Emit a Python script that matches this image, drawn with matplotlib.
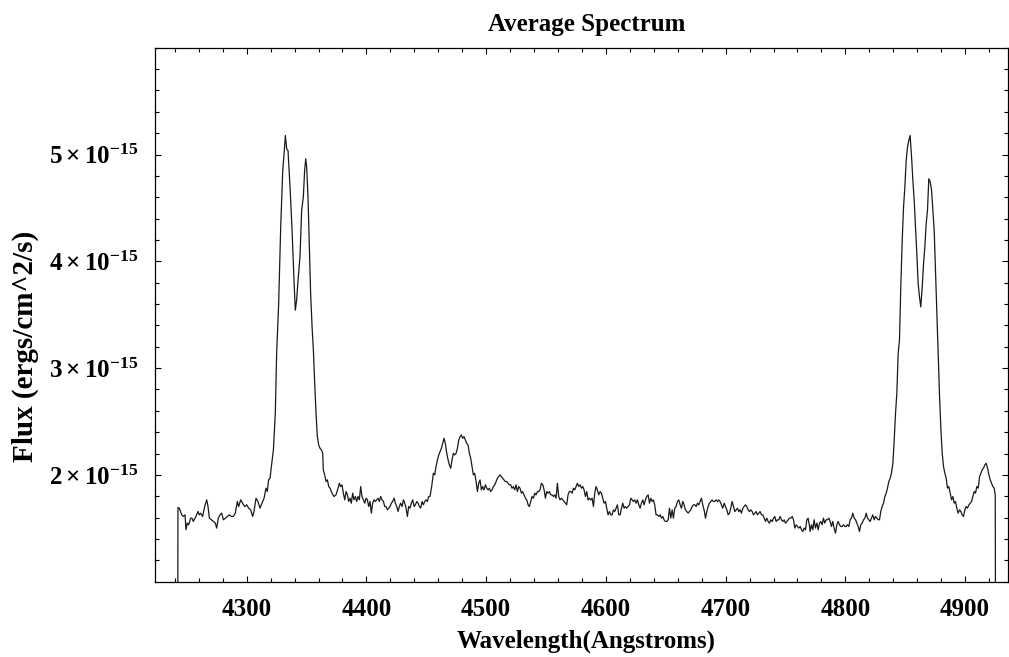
import numpy as np
import matplotlib
matplotlib.use('Agg')
import matplotlib.pyplot as plt
from matplotlib.ticker import MultipleLocator, FixedLocator, FuncFormatter

# average spectrum; flux in units of 1e-15 ergs/cm^2/s
wavelength = [
    4242.3, 4242.6, 4243.7, 4245.7, 4247.1, 4248.5, 4249.3, 4250.4, 4251.5, 4253.2,
    4254.3, 4255.4, 4257.6, 4259.3, 4260.4, 4261.5, 4263.2, 4264.9, 4266.6, 4267.7,
    4268.8, 4270.5, 4272.1, 4273.8, 4274.9, 4276.3, 4277.7, 4279.1, 4280.5, 4282.1,
    4283.8, 4285.5, 4287.2, 4288.8, 4290.5, 4292.2, 4293.3, 4295.0, 4296.6, 4298.3,
    4300.0, 4301.6, 4303.3, 4305.0, 4306.1, 4307.8, 4309.4, 4311.1, 4312.8, 4314.5,
    4316.1, 4317.2, 4318.3, 4319.5, 4320.6, 4322.3, 4323.9, 4325.0, 4326.7, 4328.4,
    4330.1, 4331.2, 4332.3, 4333.4, 4334.5, 4336.2, 4337.9, 4339.5, 4340.6, 4341.7,
    4342.9,
    # H-gamma red side and continuum
    4344.5, 4345.9, 4347.3, 4348.4, 4349.3, 4350.1, 4351.2, 4352.3, 4353.4, 4354.6,
    4355.7, 4356.8, 4357.9, 4359.0, 4360.1, 4361.2, 4362.4, 4363.5, 4364.0, 4365.1,
    4366.3, 4367.4, 4368.5, 4369.6, 4371.3, 4372.9, 4374.6, 4376.3, 4377.4, 4378.5,
    4379.6, 4380.7, 4381.9, 4383.0, 4384.1, 4385.2, 4386.3, 4387.4, 4388.5, 4389.6,
    4390.8, 4391.9, 4393.0, 4394.1, 4395.2, 4396.3, 4397.4, 4398.6, 4399.7, 4400.8,
    4401.9, 4403.0, 4404.1, 4405.2, 4406.4, 4407.5, 4408.6, 4409.7, 4410.8, 4411.9,
    4413.0, 4414.2, 4415.3, 4416.4, 4417.5, 4418.6, 4419.7, 4420.8, 4421.9, 4423.1,
    4424.2, 4425.3, 4426.4, 4427.5, 4428.6, 4429.8, 4430.9, 4432.0, 4433.1, 4434.2,
    4435.3, 4436.4, 4437.5, 4438.7, 4439.8, 4440.9, 4442.0, 4443.1, 4444.2, 4445.3,
    4446.5, 4447.6, 4448.7, 4449.8, 4450.9, 4452.0,
    # He I 4471 bump and continuum
    4453.1, 4454.5, 4455.9, 4457.0, 4458.1, 4459.3, 4460.4, 4461.5, 4462.6, 4463.7,
    4464.8, 4465.9, 4467.1, 4468.2, 4469.3, 4470.4, 4471.5, 4472.6, 4473.7, 4474.9,
    4476.0, 4477.1, 4478.2, 4479.3, 4480.4, 4481.5, 4482.6, 4483.8, 4484.9, 4486.0,
    4487.1, 4488.2, 4489.3, 4490.4, 4491.6, 4492.7, 4493.8, 4494.9, 4496.0, 4497.1,
    4498.2, 4499.4, 4500.5, 4501.6, 4502.7, 4503.8, 4504.9, 4506.0, 4507.2, 4508.3,
    4509.4, 4510.5, 4511.6, 4512.7, 4513.8, 4514.9, 4516.1, 4517.2, 4518.3, 4519.4,
    4520.5, 4521.6, 4522.7, 4523.9, 4525.0, 4526.1, 4527.2, 4528.3, 4529.4, 4530.5,
    4531.7, 4532.8, 4533.9, 4535.0, 4536.1, 4537.2, 4538.3, 4539.5, 4540.6, 4541.7,
    4542.8, 4543.9, 4545.0, 4546.1, 4547.3, 4548.4, 4549.5, 4550.6, 4551.7, 4552.8,
    4553.9, 4555.1, 4556.2, 4557.3, 4558.4, 4559.5, 4560.6, 4561.7, 4562.9, 4564.0,
    4565.1, 4566.2, 4567.3, 4568.4, 4569.5, 4570.7, 4571.8, 4572.9, 4574.0, 4575.1,
    4576.2, 4577.3, 4578.5, 4579.6, 4580.7, 4581.8, 4582.9, 4584.0, 4585.1, 4586.2,
    4587.4, 4588.5, 4589.6, 4590.7, 4591.8, 4592.9, 4594.0, 4595.2, 4596.3, 4597.4,
    4598.5, 4599.6, 4600.7, 4601.8, 4603.0, 4604.1, 4605.2, 4606.3, 4607.4, 4608.5,
    4609.6, 4610.8,
    4611.9, 4613.0, 4614.1, 4615.2, 4616.3, 4617.4, 4618.5, 4619.7, 4620.8, 4621.9,
    4623.0, 4624.1, 4625.2, 4626.3, 4627.5, 4628.6, 4629.7, 4630.8, 4631.9, 4633.0,
    4634.1, 4635.3, 4636.4, 4637.5, 4638.6, 4639.7, 4640.8, 4641.9, 4643.1, 4644.2,
    4645.3, 4646.4, 4647.5, 4648.6, 4649.7, 4650.9, 4652.0, 4653.1, 4654.2, 4655.3,
    4656.4, 4657.5, 4658.6, 4659.8, 4660.9, 4662.0, 4663.1, 4664.2, 4665.3, 4666.4,
    4667.6, 4668.7, 4669.8, 4670.9, 4672.0, 4673.1, 4674.2, 4675.4, 4676.5, 4677.6,
    4678.7, 4679.8, 4680.9, 4682.0, 4683.2, 4684.3, 4685.4, 4686.5, 4687.6, 4688.7,
    4689.8, 4690.9, 4692.1, 4693.2, 4694.3, 4695.4, 4696.5, 4697.6, 4698.8, 4699.9,
    4701.0, 4702.1, 4703.2, 4704.3, 4705.4, 4706.6, 4707.7, 4708.8, 4709.9, 4711.0,
    4712.1, 4713.2, 4714.4, 4715.5, 4716.6, 4717.7, 4718.8, 4719.9, 4721.0, 4722.2,
    4723.3, 4724.4, 4725.5, 4726.6, 4727.7, 4728.8, 4730.0, 4731.1, 4732.2, 4733.3,
    4734.4, 4735.5, 4736.6, 4737.7, 4738.9, 4740.0, 4741.1, 4742.2, 4743.3, 4744.4,
    4745.5, 4746.7, 4747.8, 4748.9, 4750.0, 4751.1, 4752.2, 4753.3, 4754.5, 4755.6,
    4756.7, 4757.8, 4758.9, 4760.0, 4761.1, 4762.3, 4763.4, 4764.5, 4765.6, 4766.7,
    4767.8, 4768.9, 4770.1,
    # H-beta region
    4770.6, 4771.7, 4772.8, 4773.9, 4775.0, 4776.2, 4777.3, 4778.4, 4779.5, 4780.6,
    4781.7, 4782.8, 4784.0, 4785.1, 4786.2, 4787.3, 4788.4, 4789.5, 4790.6, 4791.8,
    4792.9, 4794.0, 4795.1, 4796.2, 4797.3, 4798.4, 4799.6, 4800.7, 4801.8, 4802.9,
    4804.0, 4805.1, 4806.2, 4807.4, 4808.5, 4809.6, 4810.7, 4811.8, 4812.9, 4814.0,
    4815.2, 4816.3, 4817.4, 4818.5, 4819.6, 4820.7, 4821.8, 4822.9, 4824.1, 4825.2,
    4826.3, 4827.4, 4828.5, 4829.6, 4830.7, 4831.9, 4833.0, 4834.1, 4835.2, 4836.3,
    4837.4, 4838.5, 4839.7, 4840.8, 4841.9, 4843.0, 4844.1, 4845.2, 4846.3, 4847.5,
    4848.6, 4849.7, 4850.8, 4851.9, 4853.0, 4854.1, 4855.3, 4856.4, 4857.5, 4858.6,
    4859.7, 4860.8, 4861.9, 4863.0, 4864.2, 4865.3, 4866.4, 4867.5, 4868.6, 4869.7,
    4870.9, 4872.0, 4873.1, 4874.2, 4875.3, 4876.4, 4877.5, 4878.6, 4879.8, 4880.9,
    4882.0, 4883.1, 4884.2, 4885.3, 4886.4, 4887.6, 4888.7, 4889.8, 4890.9, 4892.0,
    4893.1, 4894.2, 4895.4, 4896.5, 4897.6, 4898.7, 4899.8, 4900.9, 4902.0, 4903.2,
    4904.3, 4905.4, 4906.5, 4907.6, 4908.7, 4909.8, 4911.0, 4912.1, 4913.2, 4914.3,
    4915.4, 4916.5, 4917.6, 4918.8, 4919.9, 4921.0, 4922.1, 4923.2, 4924.3, 4925.2,
    4925.5,
]

flux_e15 = [
    0.0, 1.695, 1.689, 1.626, 1.611, 1.626, 1.486, 1.549, 1.533, 1.595,
    1.595, 1.564, 1.611, 1.658, 1.626, 1.642, 1.611, 1.704, 1.767, 1.704,
    1.595, 1.580, 1.564, 1.549, 1.502, 1.595, 1.626, 1.642, 1.580, 1.595,
    1.611, 1.626, 1.611, 1.611, 1.642, 1.751, 1.704, 1.767, 1.735, 1.704,
    1.720, 1.689, 1.673, 1.611, 1.658, 1.782, 1.751, 1.689, 1.735, 1.782,
    1.876, 1.845, 1.954, 1.969, 2.078, 2.234, 2.577, 3.137, 3.605, 4.321,
    4.851, 5.006, 5.178, 5.053, 5.038, 4.695, 4.290, 3.823, 3.542, 3.636,
    3.823,
    4.041, 4.477, 4.602, 4.851, 4.960, 4.882, 4.602, 4.134, 3.698, 3.387,
    3.168, 2.857, 2.577, 2.359, 2.281, 2.250, 2.234, 2.203, 2.047, 2.000,
    1.938, 1.954, 1.891, 1.876, 1.829, 1.798, 1.813, 1.876, 1.922, 1.891,
    1.907, 1.829, 1.767, 1.845, 1.813, 1.751, 1.782, 1.735, 1.829, 1.767,
    1.798, 1.751, 1.798, 1.767, 1.891, 1.798, 1.767, 1.735, 1.782, 1.767,
    1.704, 1.751, 1.642, 1.735, 1.767, 1.751, 1.767, 1.782, 1.751, 1.798,
    1.767, 1.751, 1.704, 1.704, 1.673, 1.689, 1.704, 1.735, 1.751, 1.782,
    1.735, 1.704, 1.658, 1.704, 1.735, 1.704, 1.767, 1.735, 1.689, 1.611,
    1.704, 1.689, 1.735, 1.767, 1.704, 1.720, 1.751, 1.735, 1.704, 1.689,
    1.751, 1.720, 1.751, 1.767, 1.751, 1.798,
    1.798, 1.891, 2.016, 2.000, 2.078, 2.140, 2.187, 2.218, 2.249, 2.296,
    2.343, 2.296, 2.202, 2.140, 2.093, 2.062, 2.140, 2.202, 2.187, 2.202,
    2.249, 2.327, 2.358, 2.374, 2.343, 2.358, 2.327, 2.296, 2.280, 2.202,
    2.156, 2.078, 2.000, 2.016, 1.938, 1.844, 1.922, 1.953, 1.860, 1.891,
    1.860, 1.907, 1.875, 1.860, 1.875, 1.844, 1.860, 1.891, 1.907, 1.938,
    1.969, 1.984, 2.000, 1.984, 1.969, 1.953, 1.938, 1.938, 1.922, 1.907,
    1.907, 1.875, 1.891, 1.860, 1.907, 1.844, 1.891, 1.875, 1.829, 1.844,
    1.813, 1.782, 1.766, 1.720, 1.704, 1.751, 1.798, 1.782, 1.829, 1.813,
    1.844, 1.844, 1.860, 1.922, 1.907, 1.860, 1.782, 1.844, 1.829, 1.844,
    1.813, 1.813, 1.798, 1.813, 1.782, 1.922, 1.798, 1.766, 1.782, 1.766,
    1.751, 1.735, 1.720, 1.813, 1.844, 1.844, 1.829, 1.875, 1.860, 1.891,
    1.922, 1.891, 1.907, 1.875, 1.891, 1.860, 1.798, 1.844, 1.766, 1.782,
    1.766, 1.782, 1.704, 1.829, 1.891, 1.860, 1.813, 1.844, 1.829, 1.782,
    1.735, 1.751, 1.688, 1.626, 1.657, 1.626, 1.626, 1.673, 1.657, 1.688,
    1.720, 1.626,
    1.626, 1.688, 1.735, 1.688, 1.704, 1.688, 1.704, 1.720, 1.782, 1.766,
    1.751, 1.766, 1.735, 1.766, 1.720, 1.688, 1.735, 1.766, 1.720, 1.766,
    1.798, 1.813, 1.735, 1.782, 1.751, 1.766, 1.720, 1.626, 1.626, 1.611,
    1.626, 1.595, 1.611, 1.579, 1.564, 1.564, 1.579, 1.688, 1.595, 1.673,
    1.595, 1.688, 1.704, 1.751, 1.766, 1.720, 1.688, 1.751, 1.720, 1.673,
    1.657, 1.642, 1.657, 1.673, 1.704, 1.720, 1.720, 1.704, 1.735, 1.720,
    1.751, 1.782, 1.720, 1.673, 1.595, 1.657, 1.704, 1.735, 1.751, 1.766,
    1.751, 1.751, 1.766, 1.751, 1.766, 1.751, 1.720, 1.688, 1.735, 1.704,
    1.673, 1.626, 1.642, 1.688, 1.751, 1.704, 1.657, 1.673, 1.688, 1.657,
    1.673, 1.642, 1.688, 1.704, 1.720, 1.704, 1.673, 1.657, 1.673, 1.657,
    1.626, 1.642, 1.657, 1.626, 1.642, 1.657, 1.626, 1.626, 1.595, 1.564,
    1.595, 1.564, 1.548, 1.579, 1.564, 1.595, 1.611, 1.564, 1.579, 1.579,
    1.611, 1.579, 1.564, 1.579, 1.548, 1.564, 1.579, 1.595, 1.595, 1.611,
    1.579, 1.502, 1.533, 1.517, 1.502, 1.517, 1.486, 1.470, 1.502, 1.486,
    1.579, 1.595, 1.517,
    1.471, 1.533, 1.486, 1.580, 1.502, 1.549, 1.486, 1.549, 1.564, 1.533,
    1.595, 1.549, 1.580, 1.580, 1.595, 1.564, 1.517, 1.564, 1.502, 1.455,
    1.533, 1.564, 1.533, 1.517, 1.517, 1.533, 1.517, 1.517, 1.533, 1.517,
    1.580, 1.595, 1.642, 1.595, 1.580, 1.549, 1.517, 1.471, 1.533, 1.549,
    1.580, 1.595, 1.642, 1.595, 1.580, 1.564, 1.595, 1.626, 1.580, 1.611,
    1.595, 1.580, 1.580, 1.658, 1.704, 1.735, 1.798, 1.829, 1.876, 1.938,
    1.969, 2.016, 2.109, 2.327, 2.577, 2.763, 3.137, 3.262, 3.760, 4.197,
    4.508, 4.695, 4.944, 5.069, 5.131, 5.178, 4.975, 4.757, 4.570, 4.321,
    4.072, 3.792, 3.667, 3.573, 3.760, 3.978, 4.134, 4.352, 4.477, 4.773,
    4.742, 4.664, 4.477, 4.290, 3.916, 3.511, 3.168, 2.763, 2.421, 2.203,
    2.078, 2.016, 1.969, 1.876, 1.891, 1.829, 1.767, 1.798, 1.735, 1.751,
    1.689, 1.642, 1.673, 1.658, 1.626, 1.611, 1.673, 1.704, 1.689, 1.720,
    1.735, 1.751, 1.798, 1.845, 1.829, 1.891, 1.876, 1.985, 2.016, 2.047,
    2.063, 2.094, 2.109, 2.063, 2.000, 1.954, 1.922, 1.891, 1.876, 1.813,
    0.0,
]

x_major = [4300, 4400, 4500, 4600, 4700, 4800, 4900]
y_major = [2, 3, 4, 5]   # x 1e-15

plt.rcParams['font.family'] = 'Liberation Serif'
plt.rcParams['font.weight'] = 'bold'
plt.rcParams['mathtext.fontset'] = 'custom'
plt.rcParams['mathtext.rm'] = 'Liberation Serif:bold'
plt.rcParams['mathtext.it'] = 'Liberation Serif:bold'
plt.rcParams['mathtext.bf'] = 'Liberation Serif:bold'

fig = plt.figure(figsize=(10.09, 6.57), dpi=100)
ax = fig.add_axes([0.1536, 0.1146, 0.845, 0.8128])

ax.plot(wavelength, np.array(flux_e15) * 1e-15, color='#1a1a1a', lw=0.9)

ax.set_xlim(4223.4, 4935.5)
ax.set_ylim(1.0e-15, 6.0e-15)

ax.xaxis.set_major_locator(FixedLocator(x_major))
ax.xaxis.set_minor_locator(MultipleLocator(20))
ax.yaxis.set_major_locator(FixedLocator([v * 1e-15 for v in y_major]))
ax.yaxis.set_minor_locator(FixedLocator([v * 0.2e-15 for v in range(5, 31)]))
ax.yaxis.set_major_formatter(FuncFormatter(
    lambda v, p: r'$%d\times10^{-15}$' % round(v / 1e-15)))

ax.tick_params(which='both', direction='in', top=True, right=True, width=0.8)
ax.tick_params(which='major', length=4.5)
ax.tick_params(which='minor', length=2.8)
ax.tick_params(axis='x', labelsize=18, pad=12)
ax.tick_params(axis='y', labelsize=18, pad=12)
for s in ax.spines.values():
    s.set_linewidth(0.9)

fig.text(587 / 1009, 1 - 31 / 657, 'Average Spectrum', ha='center', va='baseline',
         fontsize=18, fontweight='bold')
fig.text(586 / 1009, 1 - 648 / 657, 'Wavelength(Angstroms)', ha='center', va='baseline',
         fontsize=18, fontweight='bold')
fig.text(25 / 1009, 1 - 346 / 657, 'Flux (ergs/cm^2/s)', ha='center', va='center',
         rotation=90, fontsize=21, fontweight='bold')

fig.savefig('out.png', dpi=100)
